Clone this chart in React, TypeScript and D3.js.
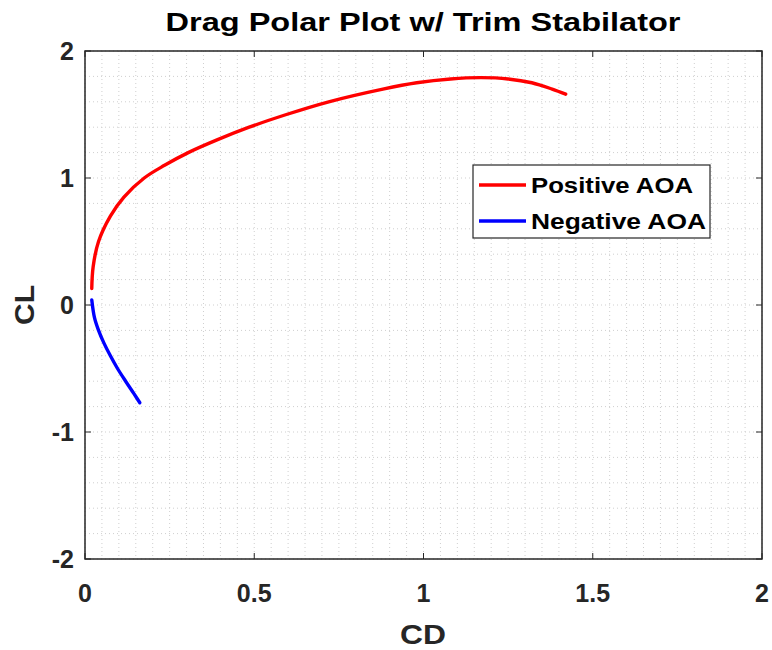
import React from "react";
import * as d3 from "d3";

const posCD = [0.02, 0.024, 0.04, 0.075, 0.115, 0.175, 0.235, 0.305, 0.39, 0.485, 0.595, 0.72, 0.88, 0.98, 1.08, 1.17, 1.25, 1.32, 1.38, 1.42];
const posCL = [0.13, 0.3, 0.5, 0.7, 0.85, 1.0, 1.1, 1.2, 1.3, 1.4, 1.5, 1.6, 1.7, 1.75, 1.78, 1.79, 1.78, 1.75, 1.7, 1.66];
const negCD = [0.02, 0.028, 0.04, 0.056, 0.075, 0.096, 0.12, 0.145, 0.162];
const negCL = [0.04, -0.1, -0.2, -0.3, -0.4, -0.5, -0.6, -0.7, -0.77];
const xTicks = [0, 0.5, 1, 1.5, 2];
const yTicks = [-2, -1, 0, 1, 2];
const seriesNames = ["Positive AOA", "Negative AOA"];

const W = 772, H = 650;
const L = 85, R = 762, T = 51, B = 559;
const FONT = "'Liberation Sans', Arial, sans-serif";

export default function App() {
  const x = d3.scaleLinear().domain([0, 2]).range([L, R]);
  const y = d3.scaleLinear().domain([-2, 2]).range([B, T]);
  const line = d3.line<[number, number]>().x(d => x(d[0])).y(d => y(d[1])).curve(d3.curveCatmullRom);
  const pos: [number, number][] = posCD.map((c, i) => [c, posCL[i]]);
  const neg: [number, number][] = negCD.map((c, i) => [c, negCL[i]]);
  const xMinor = d3.range(0, 2.0001, 0.05);
  const yMinor = d3.range(-2, 2.0001, 0.2);
  const colors = ["#ff0000", "#0000ff"];
  return (
    <svg width={W} height={H} style={{ position: "absolute", left: 0, top: 0, background: "#fff" }}>
      <rect x={0} y={0} width={W} height={H} fill="#fff" />
      <rect x={L} y={T} width={R - L} height={B - T} fill="#fff" />
      {xMinor.map((v, i) => (
        <line key={"xv" + i} x1={x(v)} x2={x(v)} y1={T} y2={B} stroke="#cfcfcf" strokeWidth={1} strokeDasharray="1,3" />
      ))}
      {yMinor.map((v, i) => (
        <line key={"yh" + i} x1={L} x2={R} y1={y(v)} y2={y(v)} stroke="#cfcfcf" strokeWidth={1} strokeDasharray="1,3" />
      ))}
      {xTicks.map((v, i) => (
        <g key={"xt" + i}>
          <line x1={x(v)} x2={x(v)} y1={B} y2={B - 6} stroke="#262626" />
          <line x1={x(v)} x2={x(v)} y1={T} y2={T + 6} stroke="#262626" />
          <text x={x(v)} y={602} textAnchor="middle" fontFamily={FONT} fontWeight="bold" fontSize={25} fill="#262626">{String(v)}</text>
        </g>
      ))}
      {yTicks.map((v, i) => (
        <g key={"yt" + i}>
          <line x1={L} x2={L + 6} y1={y(v)} y2={y(v)} stroke="#262626" />
          <line x1={R} x2={R - 6} y1={y(v)} y2={y(v)} stroke="#262626" />
          <text x={74} y={y(v) + 9} textAnchor="end" fontFamily={FONT} fontWeight="bold" fontSize={25} fill="#262626">{String(v)}</text>
        </g>
      ))}
      <rect x={L} y={T} width={R - L} height={B - T} fill="none" stroke="#262626" strokeWidth={1.5} />
      <path d={line(pos) || ""} fill="none" stroke={colors[0]} strokeWidth={3.4} strokeLinecap="round" />
      <path d={line(neg) || ""} fill="none" stroke={colors[1]} strokeWidth={3.4} strokeLinecap="round" />
      <rect x={473} y={165} width={237} height={73} fill="#fff" stroke="#262626" strokeWidth={1.2} />
      {seriesNames.map((n, i) => (
        <g key={"lg" + i}>
          <line x1={479} x2={526} y1={185 + i * 36} y2={185 + i * 36} stroke={colors[i]} strokeWidth={3.4} />
          <text x={531} y={185 + i * 36 + 8} fontFamily={FONT} fontWeight="bold" fontSize={22} fill="#000" textLength={i === 0 ? 162 : 175} lengthAdjust="spacingAndGlyphs">{n}</text>
        </g>
      ))}
      <text x={423} y={31} textAnchor="middle" fontFamily={FONT} fontWeight="bold" fontSize={26} fill="#000" textLength={515} lengthAdjust="spacingAndGlyphs">Drag Polar Plot w/ Trim Stabilator</text>
      <text x={423} y={644} textAnchor="middle" fontFamily={FONT} fontWeight="bold" fontSize={28} fill="#262626" textLength={46} lengthAdjust="spacingAndGlyphs">CD</text>
      <text transform={`translate(34,${(T + B) / 2}) rotate(-90)`} textAnchor="middle" fontFamily={FONT} fontWeight="bold" fontSize={28} fill="#262626" textLength={40} lengthAdjust="spacingAndGlyphs">CL</text>
    </svg>
  );
}
